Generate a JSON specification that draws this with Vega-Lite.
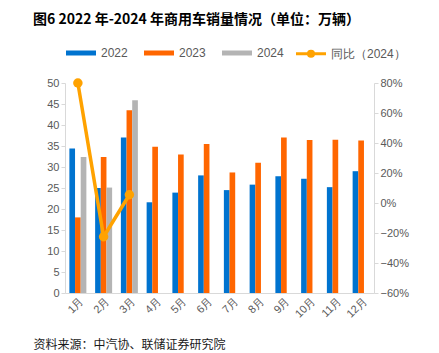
{
  "$schema": "https://vega.github.io/schema/vega-lite/v6.json",
  "autosize": "none",
  "width": 309,
  "height": 210,
  "padding": {"left": 65, "top": 83, "right": 65, "bottom": 60},
  "background": "white",
  "config": {
    "font": "Liberation Sans",
    "view": {"stroke": null},
    "axis": {"labelColor": "#595959", "labelFontSize": 11, "domainColor": "#D9D9D9", "tickColor": "#D9D9D9", "grid": false}
  },
  "title": {
    "text": "图6  2022 年-2024 年商用车销量情况（单位：万辆）",
    "font": "Noto Sans CJK SC",
    "fontWeight": "bold",
    "fontSize": 14,
    "color": "#000000",
    "anchor": "start",
    "frame": "group",
    "dx": -32,
    "offset": 20
  },
  "datasets": {
    "sales": [
      {"month": "1月", "year": "2022", "value": 34.4},
      {"month": "1月", "year": "2023", "value": 18.0},
      {"month": "1月", "year": "2024", "value": 32.4},
      {"month": "2月", "year": "2022", "value": 25.0},
      {"month": "2月", "year": "2023", "value": 32.4},
      {"month": "2月", "year": "2024", "value": 25.1},
      {"month": "3月", "year": "2022", "value": 37.0},
      {"month": "3月", "year": "2023", "value": 43.5},
      {"month": "3月", "year": "2024", "value": 45.9},
      {"month": "4月", "year": "2022", "value": 21.6},
      {"month": "4月", "year": "2023", "value": 34.8},
      {"month": "5月", "year": "2022", "value": 23.9},
      {"month": "5月", "year": "2023", "value": 33.0},
      {"month": "6月", "year": "2022", "value": 28.0},
      {"month": "6月", "year": "2023", "value": 35.5},
      {"month": "7月", "year": "2022", "value": 24.5},
      {"month": "7月", "year": "2023", "value": 28.7},
      {"month": "8月", "year": "2022", "value": 25.8},
      {"month": "8月", "year": "2023", "value": 31.0},
      {"month": "9月", "year": "2022", "value": 27.8},
      {"month": "9月", "year": "2023", "value": 37.0},
      {"month": "10月", "year": "2022", "value": 27.2},
      {"month": "10月", "year": "2023", "value": 36.4},
      {"month": "11月", "year": "2022", "value": 25.2},
      {"month": "11月", "year": "2023", "value": 36.5},
      {"month": "12月", "year": "2022", "value": 29.0},
      {"month": "12月", "year": "2023", "value": 36.3}
    ],
    "yoy": [
      {"month": "1月", "series": "同比（2024）", "yoy": 0.80},
      {"month": "2月", "series": "同比（2024）", "yoy": -0.225},
      {"month": "3月", "series": "同比（2024）", "yoy": 0.055}
    ]
  },
  "encoding": {
    "x": {
      "field": "month",
      "type": "nominal",
      "sort": ["1月","2月","3月","4月","5月","6月","7月","8月","9月","10月","11月","12月"],
      "scale": {"domain": ["1月","2月","3月","4月","5月","6月","7月","8月","9月","10月","11月","12月"], "paddingInner": 0.34, "paddingOuter": 0.17},
      "axis": {
        "labelAngle": -45,
        "ticks": false,
        "domainColor": "#D9D9D9",
        "title": "资料来源：中汽协、联储证券研究院",
        "titleFont": "Noto Sans CJK SC",
        "titleFontWeight": "normal",
        "titleFontSize": 12,
        "titleColor": "#1a1a1a",
        "titleAnchor": "start",
        "titleAlign": "left",
        "titleBaseline": "alphabetic",
        "titleX": -32,
        "titleY": 55
      }
    }
  },
  "layer": [
    {
      "data": {"name": "sales"},
      "mark": {"type": "bar"},
      "encoding": {
        "xOffset": {"field": "year", "type": "nominal", "scale": {"domain": ["2022","2023","2024"], "paddingInner": 0}},
        "y": {
          "field": "value",
          "type": "quantitative",
          "scale": {"domain": [0, 50]},
          "axis": {"title": null, "values": [0,5,10,15,20,25,30,35,40,45,50], "tickSize": 4, "labelPadding": 2}
        },
        "color": {
          "field": "year",
          "type": "nominal",
          "scale": {"domain": ["2022","2023","2024","同比（2024）"], "range": ["#0073CF","#FF6600","#B4B4B4","#FFA200"]},
          "legend": {
            "orient": "none",
            "legendX": 10,
            "legendY": -36,
            "direction": "horizontal",
            "title": null,
            "symbolType": "stroke",
            "symbolSize": 900,
            "symbolStrokeWidth": 5,
            "labelFontSize": 12,
            "labelColor": "#595959",
            "labelOffset": 14,
            "columnPadding": 6,
            "encode": {
              "symbols": {
                "update": {
                  "shape": {"signal": "datum.value === '同比（2024）' ? 'M-1,0H1M0.17,0A0.17,0.17 0 1,1 -0.17,0A0.17,0.17 0 1,1 0.17,0' : 'stroke'"},
                  "strokeWidth": {"signal": "datum.value === '同比（2024）' ? 3 : 5"},
                  "fill": {"signal": "datum.value === '同比（2024）' ? '#FFA200' : 'transparent'"}
                }
              }
            }
          }
        }
      }
    },
    {
      "data": {"name": "yoy"},
      "mark": {"type": "line", "strokeWidth": 3.5, "point": {"filled": true, "size": 90}},
      "encoding": {
        "y": {
          "field": "yoy",
          "type": "quantitative",
          "scale": {"domain": [-0.6, 0.8]},
          "axis": {"title": null, "orient": "right", "format": ".0%", "values": [-0.6,-0.4,-0.2,0,0.2,0.4,0.6,0.8], "tickSize": 4, "labelPadding": 2}
        },
        "color": {"field": "series", "type": "nominal"}
      }
    }
  ],
  "resolve": {"scale": {"y": "independent"}}
}
